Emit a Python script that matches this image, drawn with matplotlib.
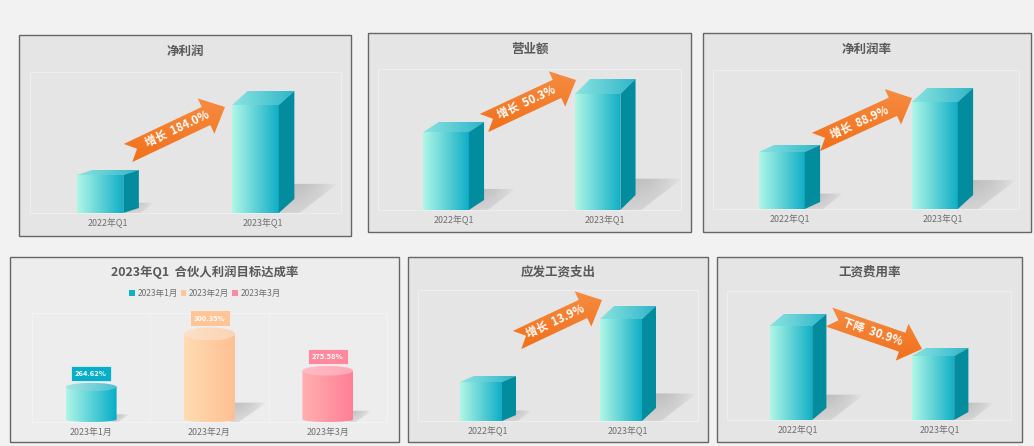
import numpy as np
import matplotlib
matplotlib.use("Agg")
import matplotlib.pyplot as plt
from matplotlib.colors import LinearSegmentedColormap
from matplotlib.patches import Polygon, Rectangle, Patch

plt.rcParams['font.family'] = ['Noto Sans CJK SC', 'DejaVu Sans']

W, H = 1034, 446

# data (bar heights, no axis in the reference)
quarters = ["2022年Q1", "2023年Q1"]
net_profit = [38, 108]
revenue = [78, 116]
net_margin = [57, 107]
wages = [39, 102]
wage_ratio = [94, 64]

months = ["2023年1月", "2023年2月", "2023年3月"]
target_rate = [264.62, 300.35, 275.58]

# layout in reference pixels
panels = [
    dict(title="净利润", values=net_profit, frame=(19, 35, 351, 236), plot=(30, 72, 341, 213),
         title_y=51, depth=(5, 14), arrow=((128, 153), (225, 107)), text="增长  184.0%", text_at=(177, 129)),
    dict(title="营业额", values=revenue, frame=(368, 33, 691, 232), plot=(378, 69, 681, 210),
         title_y=49, depth=(10, 15), arrow=((484, 123), (576, 80)), text="增长  50.3%", text_at=(527, 103)),
    dict(title="净利润率", values=net_margin, frame=(703, 33, 1031, 232), plot=(713, 70, 1019, 209),
         title_y=49, depth=(7, 14), arrow=((816, 142), (912, 98)), text="增长  88.9%", text_at=(860, 123)),
    dict(title="应发工资支出", values=wages, frame=(408, 257, 708, 442), plot=(418, 290, 698, 421),
         title_y=272, depth=(6, 13), arrow=((517, 340), (602, 300)), text="增长  13.9%", text_at=(556, 322)),
    dict(title="工资费用率", values=wage_ratio, frame=(717, 257, 1022, 442), plot=(727, 291, 1011, 420),
         title_y=272, depth=(12, 8), arrow=((829, 317), (922, 349)), text="下降  30.9%", text_at=(872, 332)),
]
cyl_frame = (10, 257, 399, 442)
cyl_plot = (32, 313, 387, 422)
cyl_colors = [("#aef5e6", "#05aec8"), ("#fedcb2", "#ffbf92"), ("#ffb0b0", "#ff7f95")]
cyl_tops = [("#a5e6e2", "#4cc0d2"), ("#fbe0c8", "#fcd4b4"), ("#ffbcc4", "#ffa8b8")]
cyl_labels = ["#08aec8", "#ffc596", "#ff8a9e"]
legend_colors = ["#10b0c8", "#ffc596", "#ff8a9e"]

FRONT = ("#b0f7e6", "#10aec6")
TOP = ("#8ce4e0", "#2eb5ca")
SIDE = "#038b9e"
ORANGE = ("#f68c42", "#f1701a")


def make_axes(fig, box, **kw):
    x0, y0, x1, y1 = box
    return fig.add_axes([x0 / W, 1 - y1 / H, (x1 - x0) / W, (y1 - y0) / H], **kw)


def gradient(ax, colors, extent, clip, vertical=False, zorder=2):
    cmap = LinearSegmentedColormap.from_list("g", colors)
    ramp = np.linspace(0, 1, 128)
    ramp = ramp.reshape(-1, 1) if vertical else ramp.reshape(1, -1)
    im = ax.imshow(ramp, cmap=cmap, extent=extent, aspect="auto", interpolation="bilinear",
                   zorder=zorder, vmin=0, vmax=1)
    im.set_clip_path(clip)
    return im


def add_clip(ax, pts):
    patch = Polygon(pts, closed=True, facecolor="none", edgecolor="none", transform=ax.transData)
    ax.add_patch(patch)
    patch.set_clip_on(False)
    return patch


def shadow(ax, x0, x1, base, rise, run):
    # soft grey cast shadow to the right of the mark
    pts = [(x0, base), (x1, base + rise), (x1 + run, base + rise), (x1 + run * 0.12, base)]
    patch = add_clip(ax, pts)
    u = np.linspace(0, 1, 128)
    v = np.linspace(1, 0, 64)
    alpha = 0.34 * (1 - u[None, :] ** 2.2) * (0.45 + 0.55 * v[:, None])
    rgba = np.zeros((64, 128, 4))
    rgba[..., :3] = 0.42
    rgba[..., 3] = alpha
    im = ax.imshow(rgba, extent=(x0, x1 + run, base, base + rise), aspect="auto",
                   interpolation="bilinear", zorder=1.5, origin="upper")
    im.set_clip_path(patch)


def bar3d(ax, x, value, px, py, dy_px):
    # front face is 0.3 of a band wide, side face 0.1
    left = x - 0.2
    right = x + 0.1
    back = x + 0.2
    dy = dy_px * py
    shadow(ax, right, back, 0, value * 0.27, value * 0.4 * px)
    front = add_clip(ax, [(left, 0), (right, 0), (right, value), (left, value)])
    gradient(ax, FRONT, (left, right, 0, value), front, zorder=3)
    top_pts = [(left, value), (right, value), (back, value + dy), (left + 0.1, value + dy)]
    top = add_clip(ax, top_pts)
    gradient(ax, TOP, (left, back, value, value + dy), top, zorder=3)
    ax.add_patch(Polygon([(right, 0), (back, dy), (back, value + dy), (right, value)],
                         closed=True, facecolor=SIDE, edgecolor="none", zorder=3, clip_on=False))


def cylinder(ax, x, value, base, px, py, body, cap):
    half = 0.215
    h = (value - base) / py
    ry = (2.5 + h * 0.045) * py
    rb = 2.5 * py
    t = np.linspace(0, np.pi, 60)
    shadow(ax, x + half * 0.8, x + half, base, h * 0.22 * py, h * 0.36 * px)
    lower = [(x + half * np.cos(a), base + rb - rb * np.sin(a)) for a in t]
    upper = [(x - half, value), (x + half, value)]
    side = add_clip(ax, lower + upper)
    gradient(ax, body, (x - half, x + half, base, value), side, zorder=3)
    cap_pts = [(x + half * np.cos(a), value + ry * np.sin(a)) for a in np.linspace(0, 2 * np.pi, 120)]
    cap_patch = add_clip(ax, cap_pts)
    gradient(ax, cap, (x - half, x + half, value - ry, value + ry), cap_patch, zorder=4)
    return ry


def style_axes(ax, labels):
    ax.set_facecolor("none")
    ax.set_xticks(range(len(labels)))
    ax.set_xticklabels(labels, fontsize=6.4, color="#6e6e6e")
    ax.set_yticks([])
    ax.tick_params(axis="x", length=0, pad=4)
    for s in ax.spines.values():
        s.set_color("#eeeeee")
        s.set_linewidth(0.8)
    ax.set_xlim(-0.5, len(labels) - 0.5)


def ribbon(ov, tail, tip, label, label_at, width=20, head_w=39, head_len=21, notch=10):
    tail = np.array(tail, float)
    tip = np.array(tip, float)
    d = (tip - tail) / np.hypot(*(tip - tail))
    n = np.array([-d[1], d[0]])
    neck = tip - d * head_len
    pts = [tail + n * width / 2, neck + n * width / 2, neck + n * head_w / 2, tip,
           neck - n * head_w / 2, neck - n * width / 2, tail - n * width / 2, tail + d * notch]
    patch = add_clip(ov, pts)
    xs, ys = zip(*pts)
    gradient(ov, ORANGE, (min(xs), max(xs), max(ys), min(ys)), patch, vertical=True, zorder=5)
    angle = -np.degrees(np.arctan2(d[1], d[0]))
    ov.text(label_at[0], label_at[1], label, color="white", fontsize=8.2, fontweight="bold",
            rotation=angle, rotation_mode="anchor", ha="center", va="center", zorder=6)


fig = plt.figure(figsize=(W / 100, H / 100), dpi=100, facecolor="#f2f2f2")

# panel cards sit underneath everything
bg = fig.add_axes([0, 0, 1, 1], zorder=0)
bg.set_xlim(0, W)
bg.set_ylim(H, 0)
bg.axis("off")
for p in panels:
    x0, y0, x1, y1 = p["frame"]
    bg.add_patch(Rectangle((x0, y0), x1 - x0, y1 - y0, facecolor="#e5e5e5", edgecolor="#666666", linewidth=1.0))
    bg.text((x0 + x1) / 2, p["title_y"], p["title"], fontsize=9.0, fontweight="bold", color="#595959",
            ha="center", va="center")
x0, y0, x1, y1 = cyl_frame
bg.add_patch(Rectangle((x0, y0), x1 - x0, y1 - y0, facecolor="#ededed", edgecolor="#666666", linewidth=1.0))
bg.text(205, 272, "2023年Q1  合伙人利润目标达成率", fontsize=8.9, fontweight="bold", color="#595959",
        ha="center", va="center")

# 3D bar panels
for p in panels:
    ax = make_axes(fig, p["plot"], zorder=1)
    ax.set_autoscale_on(False)
    style_axes(ax, quarters)
    height_px = p["plot"][3] - p["plot"][1]
    width_px = p["plot"][2] - p["plot"][0]
    ax.set_ylim(0, height_px)
    for i, v in enumerate(p["values"]):
        bar3d(ax, i, v, 2 / width_px, 1, p["depth"][i])
    ax.set_xlim(-0.5, 1.5)
    ax.set_ylim(0, height_px)

# cylinder panel, axis does not start at zero in the reference
ax = make_axes(fig, cyl_plot, zorder=1)
ax.set_autoscale_on(False)
style_axes(ax, months)
for s in ax.spines.values():
    s.set_color("#f3f3f3")
y_min, y_max = 241.0, 314.5
ax.set_ylim(y_min, y_max)
py = (y_max - y_min) / (cyl_plot[3] - cyl_plot[1])
px = 3 / (cyl_plot[2] - cyl_plot[0])
for b in (0.5, 1.5):
    ax.axvline(b, color="#f3f3f3", linewidth=0.6)
for i, v in enumerate(target_rate):
    ry = cylinder(ax, i, v, y_min, px, py, cyl_colors[i], cyl_tops[i])
    ax.annotate(f"{v:.2f}%", xy=(i, v + ry), xytext=(0, 6.8), textcoords="offset points",
                ha="center", va="center", color="white", fontsize=5.4, fontweight="bold", zorder=6,
                annotation_clip=False,
                bbox=dict(boxstyle="square,pad=0.55", facecolor=cyl_labels[i], edgecolor="#f4f4f4", linewidth=0.5))
ax.set_xlim(-0.5, 2.5)
ax.set_ylim(y_min, y_max)
handles = [Patch(facecolor=c, edgecolor="none") for c in legend_colors]
ax.legend(handles, months, loc="center", bbox_to_anchor=(0.487, 1.18), ncols=3, frameon=False,
          fontsize=6.1, labelcolor="#6e6e6e", handlelength=0.7, handleheight=0.7,
          handletextpad=0.3, columnspacing=0.3, borderpad=0)

# growth arrows go over the bars
ov = fig.add_axes([0, 0, 1, 1], zorder=5)
ov.set_autoscale_on(False)
ov.set_xlim(0, W)
ov.set_ylim(H, 0)
ov.axis("off")
for p in panels:
    ribbon(ov, p["arrow"][0], p["arrow"][1], p["text"], p["text_at"])
ov.set_xlim(0, W)
ov.set_ylim(H, 0)

fig.savefig("out.png", dpi=100, facecolor=fig.get_facecolor())
